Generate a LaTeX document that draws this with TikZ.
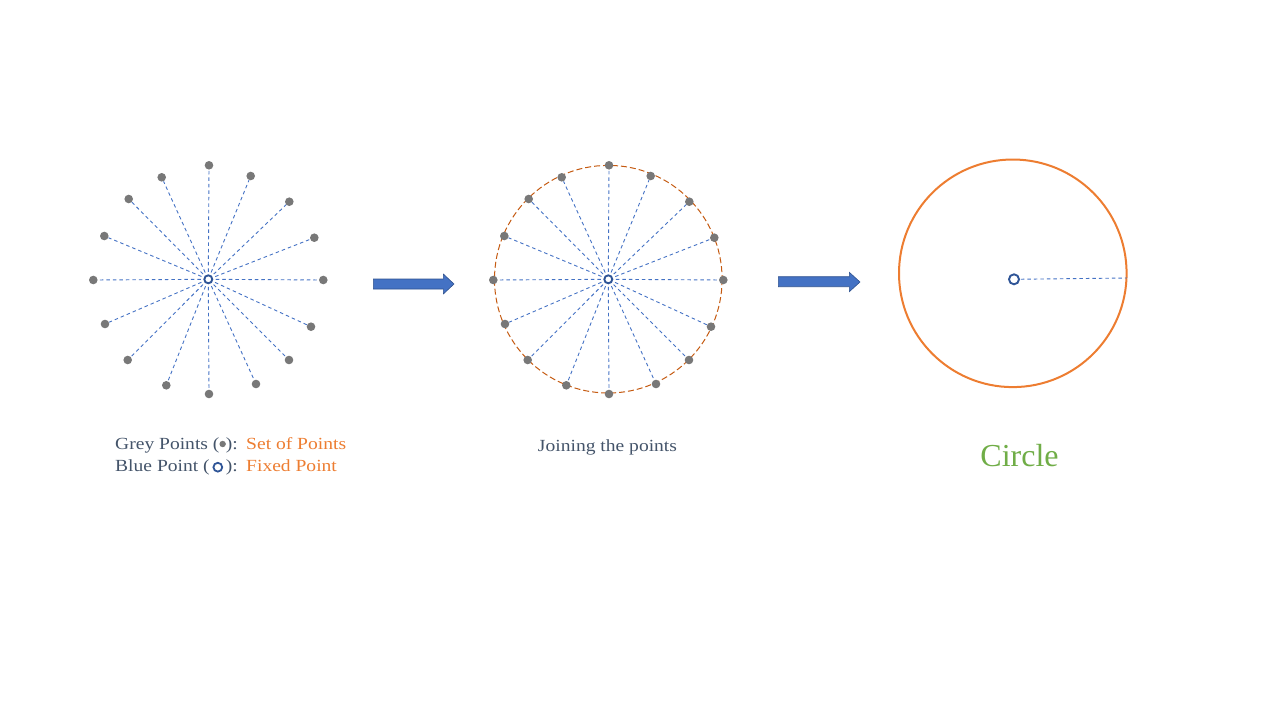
\documentclass[tikz,border=0pt]{standalone}
\usepackage{fontspec}
\setmainfont{Liberation Serif}
\newfontfamily\widefont[FakeStretch=1.15]{Liberation Serif}
\definecolor{ptgrey}{HTML}{787878}
\definecolor{ptblue}{HTML}{2F5597}
\definecolor{rayblue}{HTML}{4472C4}
\definecolor{arrfill}{HTML}{4472C4}
\definecolor{arrdraw}{HTML}{2F528F}
\definecolor{txtdark}{HTML}{44546A}
\definecolor{txtorange}{HTML}{ED7D31}
\definecolor{txtgreen}{HTML}{70AD47}
\definecolor{circorange}{HTML}{ED7D31}
\definecolor{dashorange}{HTML}{C55A11}
\begin{document}
\begin{tikzpicture}[x=1pt,y=-1pt]
\tikzset{
  gpt/.style={circle, fill=ptgrey, inner sep=0pt, minimum size=8.6pt},
  bpt/.style={circle, draw=ptblue, line width=1.9pt, fill=white, inner sep=0pt, minimum size=8pt},
  bptbig/.style={circle, draw=ptblue, line width=1.9pt, fill=white, inner sep=0pt, minimum size=10pt},
  ray/.style={draw=rayblue, dash pattern=on 3.5pt off 3pt, line width=0.9pt, shorten <=2.5pt},
  arrowsty/.style={fill=arrfill, draw=arrdraw, line width=0.6pt},
  labtxt/.style={anchor=base west, inner sep=0pt, font=\widefont\fontsize{17}{20}\selectfont},
}
\useasboundingbox (0,0) rectangle (1280,720);

% ---------- Figure 1: set of points ----------
\node[bpt] (c1) at (208.3,279.3) {};
\foreach \dx/\dy [count=\i] in {0.7/-114, 42.4/-103.3, 81/-77.6, 106/-41.6, 115/0.7, 102.7/47.4, 80.7/80.7, 47.7/104.7, 0.7/114.7, -42/106, -80.6/80.7, -103.3/44.7, -115/0.7, -104/-43.3, -79.6/-80.3, -46.6/-102}{
  \node[gpt] (a\i) at (208.3+\dx,279.3+\dy) {};
  \draw[ray] (c1) -- (a\i);
}

% ---------- Figure 2: joining the points ----------
\coordinate (o2) at (608.3,279.2);
\draw[draw=dashorange, dash pattern=on 6pt off 3pt, line width=1pt] (o2) circle (113.8);
\node[bpt] (c2) at (608.3,279.3) {};
\foreach \dx/\dy [count=\i] in {0.7/-114, 42.4/-103.3, 81/-77.6, 106/-41.6, 115/0.7, 102.7/47.4, 80.7/80.7, 47.7/104.7, 0.7/114.7, -42/106, -80.6/80.7, -103.3/44.7, -115/0.7, -104/-43.3, -79.6/-80.3, -46.6/-102}{
  \node[gpt] (b\i) at (608.3+\dx,279.3+\dy) {};
  \draw[ray] (c2) -- (b\i);
}

% ---------- Figure 3: circle ----------
\coordinate (o3) at (1012.8,273.3);
\draw[draw=circorange, line width=2pt] (o3) circle (113.8);
\node[bptbig] (c3) at (1014,279.3) {};
\coordinate (e3) at (1126.8,278);
\draw[ray, shorten <=1pt] (c3) -- (e3);

% ---------- Arrows ----------
\draw[arrowsty] (373.3,279) -- (443.3,279) -- (443.3,274) -- (454,284) -- (443.3,294) -- (443.3,289) -- (373.3,289) -- cycle;
\draw[arrowsty] (778.3,276.7) -- (849.3,276.7) -- (849.3,272.3) -- (860,282) -- (849.3,291.7) -- (849.3,286.7) -- (778.3,286.7) -- cycle;

% ---------- Labels ----------
\node[labtxt, text=txtdark] (l1a) at (115,449) {Grey Points (\tikz[baseline=-5pt]\fill[ptgrey] (0,0) circle[radius=3.2pt];):};
\node[labtxt, text=txtorange] (l1b) at (246,449) {Set of Points};
\node[labtxt, text=txtdark] (l2a) at (115,471.7) {Blue Point (\,\tikz[baseline=-4.5pt]\draw[ptblue, line width=1.8pt] (0,0) circle[radius=4.4pt];\,):};
\node[labtxt, text=txtorange] (l2b) at (246,471.7) {Fixed Point};

\node[anchor=base, inner sep=0pt, text=txtdark, font=\widefont\fontsize{17}{20}\selectfont] (l3) at (607.5,451.7) {Joining the points};
\node[anchor=base, inner sep=0pt, text=txtgreen, font=\fontsize{32}{38}\selectfont] (l4) at (1019.5,466.7) {Circle};
\end{tikzpicture}
\end{document}
